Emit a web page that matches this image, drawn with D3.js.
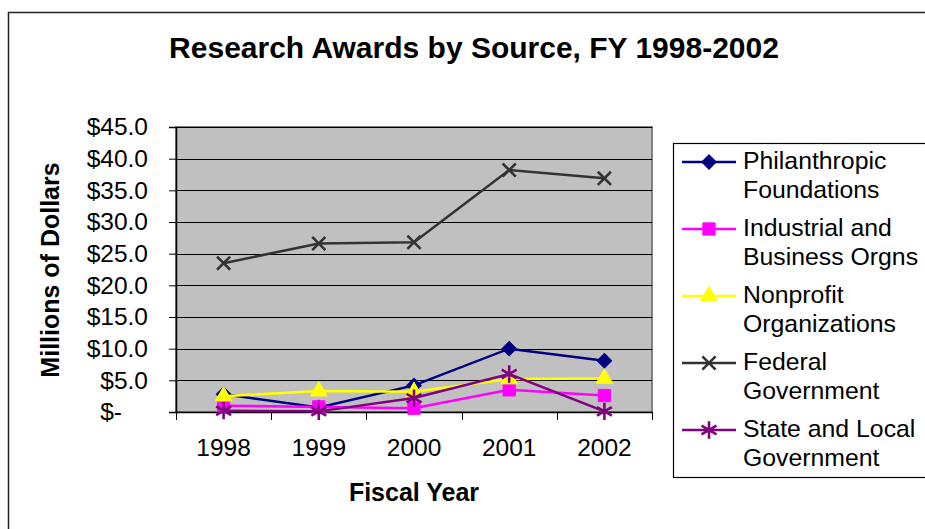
<!DOCTYPE html>
<html>
<head>
<meta charset="utf-8">
<script src="https://cdn.jsdelivr.net/npm/d3@7"></script>
<style>
  body { margin: 0; background: #fff; }
  svg text { font-family: "Liberation Sans", Arial, sans-serif; fill: #000; }
</style>
</head>
<body>
<div id="chart"></div>
<script>
var years = ["1998", "1999", "2000", "2001", "2002"];
var seriesNames = [
  ["Philanthropic", "Foundations"],
  ["Industrial and", "Business Orgns"],
  ["Nonprofit", "Organizations"],
  ["Federal", "Government"],
  ["State and Local", "Government"]
];
var philanthropic = [2.8, 0.7, 4.2, 10.0, 8.1];
var industrial = [1.0, 0.8, 0.6, 3.5, 2.6];
var nonprofit = [2.5, 3.3, 3.2, 5.2, 5.3];
var federal = [23.5, 26.6, 26.8, 38.2, 36.9];
var stateLocal = [0.2, 0.1, 2.2, 6.0, 0.1];
var yTicks = [0, 5, 10, 15, 20, 25, 30, 35, 40, 45];

var seriesValues = [philanthropic, industrial, nonprofit, federal, stateLocal];
var colors = ["#000080", "#ff00ff", "#ffff00", "#333333", "#800080"];
var markers = ["diamond", "square", "triangle", "times", "asterisk"];

var fullWidth = 925, fullHeight = 529;
var plot = {left: 176, right: 652, top: 127, bottom: 412};

var svg = d3.select("#chart").append("svg")
  .attr("width", fullWidth)
  .attr("height", fullHeight);

// outer chart border (only left and top visible)
svg.append("path")
  .attr("d", "M8.5," + fullHeight + "V12.5H" + fullWidth)
  .attr("fill", "none")
  .attr("stroke", "#222")
  .attr("stroke-width", 1.5);

var xScale = d3.scaleBand()
  .domain(years)
  .range([plot.left, plot.right])
  .padding(0);

var yScale = d3.scaleLinear()
  .domain([0, 45])
  .range([plot.bottom, plot.top]);

// plot background
svg.append("rect")
  .attr("x", plot.left)
  .attr("y", plot.top)
  .attr("width", plot.right - plot.left)
  .attr("height", plot.bottom - plot.top)
  .attr("fill", "#c0c0c0")
  .attr("stroke", "#808080")
  .attr("stroke-width", 2);

// gridlines
svg.append("g").selectAll("line")
  .data(yTicks.filter(function(d) { return d > 0; }))
  .enter().append("line")
  .attr("x1", plot.left)
  .attr("x2", plot.right)
  .attr("y1", function(d) { return Math.round(yScale(d)) + 0.5; })
  .attr("y2", function(d) { return Math.round(yScale(d)) + 0.5; })
  .attr("stroke", "#000")
  .attr("stroke-width", 1);

// y axis
var yAxis = d3.axisLeft(yScale)
  .tickValues(yTicks)
  .tickSize(7)
  .tickPadding(21)
  .tickFormat(function(d) { return d === 0 ? "$-" : "$" + d.toFixed(1); });

var yG = svg.append("g")
  .attr("transform", "translate(" + plot.left + ",0)")
  .call(yAxis);
yG.select(".domain").attr("stroke", "#000").attr("stroke-width", 1.5);
yG.selectAll(".tick line").attr("stroke", "#000");
yG.selectAll(".tick text")
  .style("font-size", "24.5px")
  .attr("x", function(d) { return d === 0 ? -54 : -28; });

// x axis: labels centred, ticks at category edges
var xAxis = d3.axisBottom(xScale).tickSize(0).tickPadding(27);
var xG = svg.append("g")
  .attr("transform", "translate(0," + plot.bottom + ")")
  .call(xAxis);
xG.select(".domain").attr("stroke", "#000").attr("stroke-width", 1.5);
xG.selectAll(".tick text").style("font-size", "24.5px");

var edges = years.map(function(d) { return xScale(d); }).concat([plot.right]);
xG.selectAll("line.edge")
  .data(edges)
  .enter().append("line")
  .attr("class", "edge")
  .attr("x1", function(d) { return Math.round(d) + 0.5; })
  .attr("x2", function(d) { return Math.round(d) + 0.5; })
  .attr("y1", 0)
  .attr("y2", 8)
  .attr("stroke", "#000");

function symbolPath(type, size) {
  if (type === "diamond") return d3.symbol(d3.symbolSquare, size)();
  if (type === "square") return d3.symbol(d3.symbolSquare, size)();
  if (type === "triangle") return d3.symbol(d3.symbolTriangle, size)();
  if (type === "times") return d3.symbol(d3.symbolTimes, size)();
  return d3.symbol(d3.symbolAsterisk, size)();
}
var markerSize = {diamond: 105, square: 150, triangle: 120, times: 115, asterisk: 210};
var strokeMarker = {times: true, asterisk: true};

function drawMarker(g, type, color, x, y) {
  var p = g.append("path")
    .attr("d", symbolPath(type, markerSize[type]))
    .attr("transform", "translate(" + x + "," + y + ")" + (type === "diamond" ? " rotate(45)" : ""));
  if (strokeMarker[type]) {
    p.attr("fill", "none").attr("stroke", color).attr("stroke-width", 2.6);
  } else {
    p.attr("fill", color).attr("stroke", color).attr("stroke-width", 1);
  }
}

var line = d3.line()
  .x(function(d, i) { return xScale(years[i]) + xScale.bandwidth() / 2; })
  .y(function(d) { return yScale(d); });

seriesValues.forEach(function(vals, s) {
  var g = svg.append("g").attr("class", "series");
  g.append("path")
    .datum(vals)
    .attr("d", line)
    .attr("fill", "none")
    .attr("stroke", colors[s])
    .attr("stroke-width", 2.5);
  vals.forEach(function(v, i) {
    drawMarker(g, markers[s], colors[s], xScale(years[i]) + xScale.bandwidth() / 2, yScale(v));
  });
});

// titles
svg.append("text")
  .attr("x", 474)
  .attr("y", 58)
  .attr("text-anchor", "middle")
  .style("font-size", "30px")
  .style("font-weight", "bold")
  .text("Research Awards by Source, FY 1998-2002");

svg.append("text")
  .attr("x", 414)
  .attr("y", 501)
  .attr("text-anchor", "middle")
  .style("font-size", "25px")
  .style("font-weight", "bold")
  .text("Fiscal Year");

svg.append("text")
  .attr("transform", "translate(59,270) rotate(-90)")
  .attr("text-anchor", "middle")
  .style("font-size", "25px")
  .style("font-weight", "bold")
  .text("Millions of Dollars");

// legend
var legend = svg.append("g");
legend.append("rect")
  .attr("x", 673.5)
  .attr("y", 143.5)
  .attr("width", 260)
  .attr("height", 334)
  .attr("fill", "#fff")
  .attr("stroke", "#000")
  .attr("stroke-width", 1.2);

seriesNames.forEach(function(name, s) {
  var base = 169 + s * 67;
  var g = legend.append("g");
  g.append("line")
    .attr("x1", 682).attr("x2", 736)
    .attr("y1", base - 7).attr("y2", base - 7)
    .attr("stroke", colors[s])
    .attr("stroke-width", 2.5);
  drawMarker(g, markers[s], colors[s], 709, base - 7);
  name.forEach(function(t, k) {
    g.append("text")
      .attr("x", 743)
      .attr("y", base + k * 29)
      .style("font-size", "24.8px")
      .text(t);
  });
});
</script>
</body>
</html>
